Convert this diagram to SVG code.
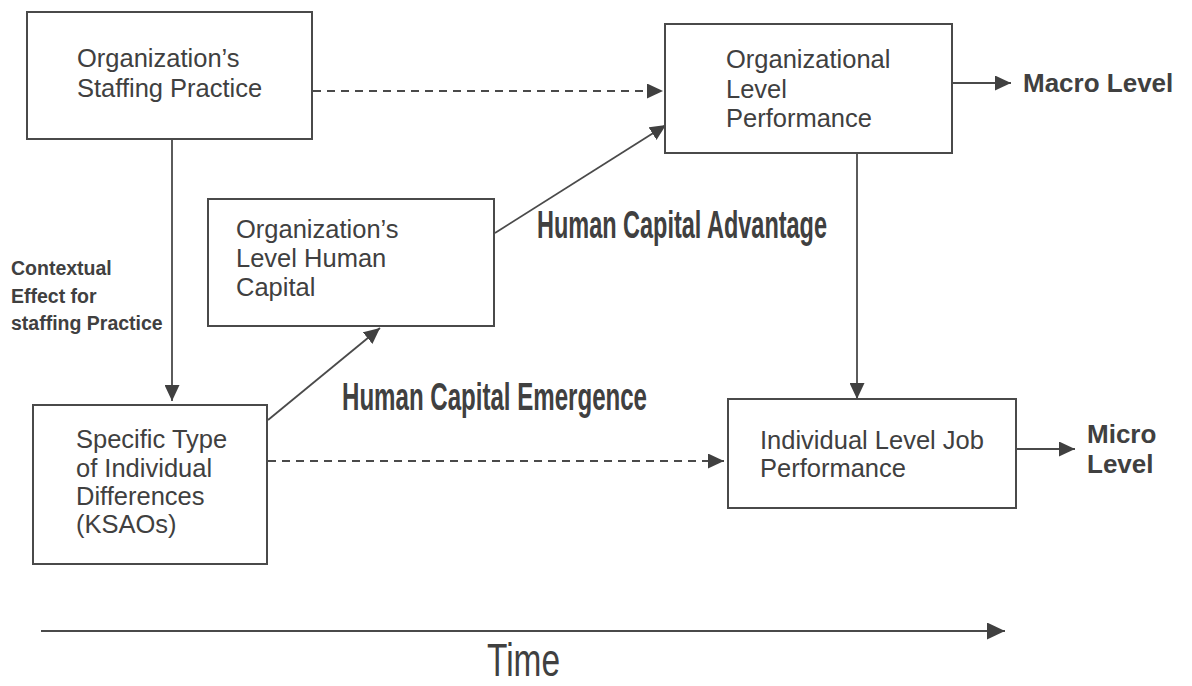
<svg xmlns="http://www.w3.org/2000/svg" width="1192" height="686" viewBox="0 0 1192 686">
  <style>
    .box { fill: #ffffff; stroke: #4a4a4a; stroke-width: 2; }
    .lbl { font-family: "Liberation Sans", Arial, sans-serif; font-size: 25.5px; fill: #404040; }
    .side { font-family: "Liberation Sans", Arial, sans-serif; font-size: 26px; font-weight: bold; fill: #404040; }
    .note { font-family: "Liberation Sans", Arial, sans-serif; font-size: 19.5px; font-weight: bold; fill: #404040; }
    .big { font-family: "Liberation Sans Narrow", "Liberation Sans", Arial, sans-serif; font-size: 38px; font-weight: bold; fill: #404040; }
    .time { font-family: "Liberation Sans Narrow", "Liberation Sans", Arial, sans-serif; font-size: 46px; fill: #404040; }
    .link { fill: none; stroke: #4a4a4a; stroke-width: 1.8; }
    .dash { stroke-dasharray: 8 6; }
  </style>
  <defs>
    <marker id="head" markerUnits="userSpaceOnUse" markerWidth="17" markerHeight="15" refX="16" refY="7.5" orient="auto">
      <path d="M0,0 L16,7.5 L0,15 z" fill="#404040"/>
    </marker>
    <marker id="headTime" markerUnits="userSpaceOnUse" markerWidth="19" markerHeight="17" refX="18" refY="8.5" orient="auto">
      <path d="M0,0 L18,8.5 L0,17 z" fill="#404040"/>
    </marker>
  </defs>
  <rect width="1192" height="686" fill="#ffffff"/>

  <!-- connectors -->
  <g id="connectors">
    <line class="link dash" x1="313" y1="91" x2="663" y2="91" marker-end="url(#head)"/>
    <line class="link" x1="172" y1="140" x2="172" y2="401" marker-end="url(#head)"/>
    <line class="link" x1="268" y1="420" x2="380" y2="328" marker-end="url(#head)"/>
    <line class="link" x1="495" y1="233" x2="666" y2="125" marker-end="url(#head)"/>
    <line class="link" x1="857" y1="154" x2="857" y2="399" marker-end="url(#head)"/>
    <line class="link dash" x1="268" y1="461" x2="724" y2="461" marker-end="url(#head)"/>
    <line class="link" x1="953" y1="83" x2="1011" y2="83" marker-end="url(#head)"/>
    <line class="link" x1="1017" y1="449" x2="1075" y2="449" marker-end="url(#head)"/>
    <line class="link" x1="41" y1="631" x2="1005" y2="631" marker-end="url(#headTime)"/>
  </g>

  <g id="staffing-practice">
    <rect class="box" x="27" y="12" width="285" height="127"/>
    <text class="lbl" x="77" y="67">Organization’s</text>
    <text class="lbl" x="77" y="97">Staffing Practice</text>
  </g>

  <g id="org-performance">
    <rect class="box" x="665" y="24" width="287" height="129"/>
    <text class="lbl" x="726" y="68">Organizational</text>
    <text class="lbl" x="726" y="98">Level</text>
    <text class="lbl" x="726" y="127">Performance</text>
  </g>

  <g id="org-human-capital">
    <rect class="box" x="208" y="199" width="286" height="127"/>
    <text class="lbl" x="236" y="238">Organization’s</text>
    <text class="lbl" x="236" y="267">Level Human</text>
    <text class="lbl" x="236" y="296">Capital</text>
  </g>

  <g id="individual-differences">
    <rect class="box" x="33" y="405" width="234" height="159"/>
    <text class="lbl" x="76" y="448">Specific Type</text>
    <text class="lbl" x="76" y="477">of Individual</text>
    <text class="lbl" x="76" y="505">Differences</text>
    <text class="lbl" x="76" y="533">(KSAOs)</text>
  </g>

  <g id="job-performance">
    <rect class="box" x="728" y="399" width="288" height="109"/>
    <text class="lbl" x="760" y="449">Individual Level Job</text>
    <text class="lbl" x="760" y="477">Performance</text>
  </g>

  <g id="labels">
    <text class="side" x="1023" y="92">Macro Level</text>
    <text class="side" x="1087" y="443">Micro</text>
    <text class="side" x="1087" y="473">Level</text>
    <text class="note" x="11" y="275">Contextual</text>
    <text class="note" x="11" y="303">Effect for</text>
    <text class="note" x="11" y="330">staffing Practice</text>
    <text class="big" x="537" y="238" textLength="290" lengthAdjust="spacingAndGlyphs">Human Capital Advantage</text>
    <text class="big" x="342" y="410" textLength="305" lengthAdjust="spacingAndGlyphs">Human Capital Emergence</text>
    <text class="time" x="487" y="676" textLength="73" lengthAdjust="spacingAndGlyphs">Time</text>
  </g>
</svg>
